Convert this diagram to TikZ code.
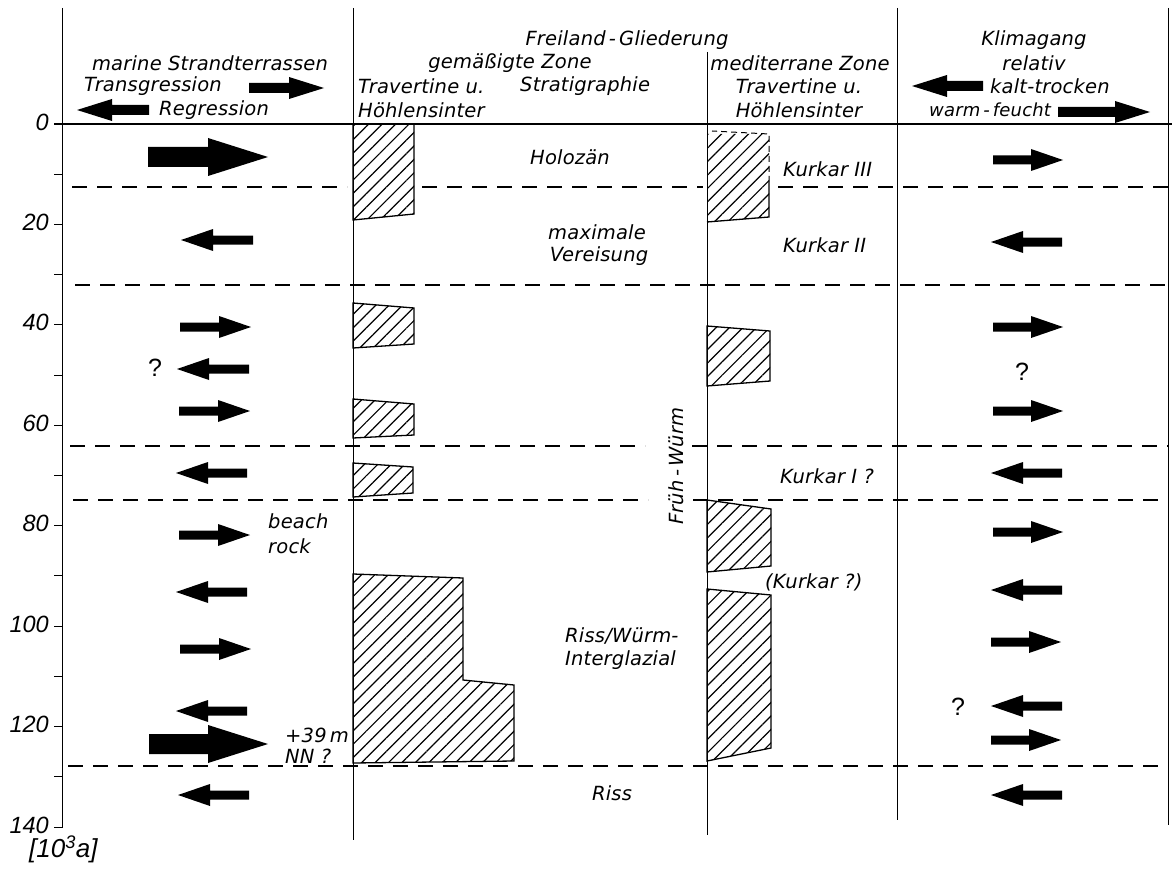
\documentclass[tikz,border=0pt]{standalone}
\usepackage{fontspec}
\setmainfont{DejaVu Sans}
\newfontfamily\lett{DejaVu Sans}[LetterSpace=1]
\newfontfamily\numf{Liberation Sans}
\usetikzlibrary{patterns.meta}
\newcommand\RArw[6]{\fill (#1,#3-#4) -- (#2-#6,#3-#4) -- (#2-#6,#3-#5) -- (#2,#3) -- (#2-#6,#3+#5) -- (#2-#6,#3+#4) -- (#1,#3+#4) -- cycle;}
\newcommand\LArw[6]{\fill (#2,#3-#4) -- (#1+#6,#3-#4) -- (#1+#6,#3-#5) -- (#1,#3) -- (#1+#6,#3+#5) -- (#1+#6,#3+#4) -- (#2,#3+#4) -- cycle;}
\begin{document}
\begin{tikzpicture}[x=1pt,y=-1pt]
\tikzset{
 lbl/.style={font=\lett\itshape\fontsize{19.5}{21}\selectfont, inner sep=0pt},
 qm/.style={font=\numf\fontsize{25}{27}\selectfont, inner sep=0pt},
 num/.style={font=\numf\itshape\fontsize{23.5}{25}\selectfont, anchor=east, inner sep=0pt},
 frame/.style={line width=1pt},
 zone/.style={line width=1.1pt, dash pattern=on 15pt off 10pt},
 hatchpat/.style={pattern={Lines[angle=45,distance=9.5pt,line width=1.2pt]}},
 hatch/.style={draw, line width=1.3pt, hatchpat},
}
\fill[white] (0,0) rectangle (1174,869);
\useasboundingbox (0,0) rectangle (1174,869);
% axis
\draw[frame] (62,8) -- (62,827) -- (54,827);
\foreach \t in {10,20,...,130} \draw[frame] (54,124+5.0214*\t) -- (62,124+5.0214*\t);
\foreach \t in {0,20,...,140} \node[num] (n\t) at (49,124+5.0214*\t-2) {\t};
\node[num,anchor=west,font=\numf\itshape\fontsize{26}{28}\selectfont] (unit) at (29,849) {[10\textsuperscript{3}a]};
% frame lines
\draw[line width=1.6pt] (54,124) -- (1172,124);
\draw[frame] (353,8) -- (353,840);
\draw[frame] (707,52) -- (707,835);
\draw[frame] (897,8) -- (897,820);
\draw[frame] (1168,8) -- (1168,825);
% dashed zone boundaries
\draw[zone] (72,187) -- (347,187);
\draw[zone] (422,187) -- (703,187);
\draw[zone] (778,187) -- (1168,187);
\draw[zone] (75,285) -- (1168,285);
\draw[zone] (70,446) -- (645,446);
\draw[zone] (692,446) -- (1168,446);
\draw[zone] (73,500) -- (648,500);
\draw[zone] (693,500) -- (1168,500);
\draw[zone] (68,766) -- (1168,766);
% temperate zone travertine
\draw[hatch] (353,124) -- (414,124) -- (414,214) -- (353,220) -- cycle;
\draw[hatch] (353,303) -- (414,308) -- (414,344) -- (353,348) -- cycle;
\draw[hatch] (353,399) -- (414,404) -- (414,435) -- (353,438) -- cycle;
\draw[hatch] (353,463) -- (413,467) -- (413,493) -- (353,497) -- cycle;
\draw[hatch] (353,574) -- (463,578) -- (463,680) -- (514,685) -- (514,761) -- (353,763) -- cycle;
% mediterranean zone travertine
\fill[hatchpat] (707,134) -- (769,134) -- (769,217) -- (707,222) -- cycle;
\draw[line width=1.3pt] (707,222) -- (769,217) -- (769,182);
\draw[line width=1pt, dash pattern=on 6pt off 4pt] (769,182) -- (769,134) -- (712,131);
\draw[hatch] (707,326) -- (770,331) -- (770,381) -- (707,386) -- cycle;
\draw[hatch] (707,500) -- (771,509) -- (771,566) -- (707,572) -- cycle;
\draw[hatch] (707,589) -- (771,595) -- (771,748) -- (707,761) -- cycle;
% header texts
\node[lbl] (h1) at (210,63) {marine Strandterrassen};
\node[lbl,anchor=west] (h2) at (84,86) {Transgression};
\node[lbl,anchor=west] (h3) at (159,110) {Regression};
\RArw{249}{324}{88}{5}{11}{35}
\LArw{77}{149}{110}{5}{11}{35}
\node[lbl] (h4) at (627,40) {Freiland\,-\,Gliederung};
\node[lbl] (h5) at (510,63) {gemäßigte Zone};
\node[lbl,anchor=west] (h6) at (358,86) {Travertine u.};
\node[lbl,anchor=west] (h7) at (520,86) {Stratigraphie};
\node[lbl,anchor=west] (h8) at (358,110) {Höhlensinter};
\node[lbl] (h9) at (800,63) {mediterrane Zone};
\node[lbl] (h10) at (799,86) {Travertine u.};
\node[lbl] (h11) at (799,110) {Höhlensinter};
\node[lbl] (h12) at (1034,40) {Klimagang};
\node[lbl] (h13) at (1034,63) {relativ};
\node[lbl,anchor=west] (h14) at (990,86) {kalt-trocken};
\node[lbl,anchor=west,font=\lett\itshape\fontsize{18}{20}\selectfont] (h15) at (929,110) {warm\,-\,feucht};
\LArw{912}{983}{86}{5}{11}{35}
\RArw{1058}{1150}{112}{5}{11}{35}
% stratigraphy labels
\node[lbl] (s1) at (570,157) {Holozän};
\node[lbl] (s2) at (597,232) {maximale};
\node[lbl] (s3) at (599,256) {Vereisung};
\node[lbl,rotate=90] (s4) at (676,466) {Früh\,-\,Würm};
\node[lbl,anchor=west] (s5) at (565,636) {Riss/Würm-};
\node[lbl,anchor=west] (s6) at (565,660) {Interglazial};
\node[lbl] (s7) at (612,793) {Riss};
\node[lbl,anchor=west] (k1) at (783,169) {Kurkar III};
\node[lbl,anchor=west] (k2) at (783,245) {Kurkar II};
\node[lbl,anchor=west] (k3) at (780,476) {Kurkar I ?};
\node[lbl,anchor=west] (k4) at (765,582) {(Kurkar ?)};
% marine column
\RArw{148}{268}{157}{10}{19}{60}
\LArw{181}{253}{240}{4.5}{11}{32}
\RArw{180}{251}{327}{4.5}{11}{32}
\LArw{177}{249}{369}{4.5}{11}{32}
\RArw{179}{250}{411}{4.5}{11}{32}
\LArw{176}{247}{473}{4.5}{11}{32}
\RArw{179}{250}{535}{4.5}{11}{32}
\LArw{176}{247}{592}{4.5}{11}{32}
\RArw{180}{251}{649}{4.5}{11}{32}
\LArw{176}{247}{711}{4.5}{11}{32}
\RArw{149}{268}{744}{10}{19}{60}
\LArw{178}{249}{795}{4.5}{11}{32}
\node[qm] (q1) at (155,368) {?};
\node[lbl,anchor=west] (b1) at (268,521) {beach};
\node[lbl,anchor=west] (b2) at (268,546) {rock};
\node[lbl,anchor=west] (p1) at (285,735) {+39\,m};
\node[lbl,anchor=west] (p2) at (285,756) {NN ?};
% climate column
\RArw{993}{1063}{160}{4.5}{11}{32}
\LArw{991}{1062}{242}{4.5}{11}{32}
\RArw{993}{1063}{327}{4.5}{11}{32}
\RArw{993}{1063}{411}{4.5}{11}{32}
\LArw{991}{1062}{473}{4.5}{11}{32}
\RArw{993}{1063}{532}{4.5}{11}{32}
\LArw{991}{1062}{590}{4.5}{11}{32}
\RArw{991}{1061}{642}{4.5}{11}{32}
\LArw{991}{1062}{706}{4.5}{11}{32}
\RArw{991}{1061}{740}{4.5}{11}{32}
\LArw{991}{1062}{795}{4.5}{11}{32}
\node[qm] (q2) at (1022,372) {?};
\node[qm] (q3) at (958,707) {?};
\end{tikzpicture}
\end{document}
